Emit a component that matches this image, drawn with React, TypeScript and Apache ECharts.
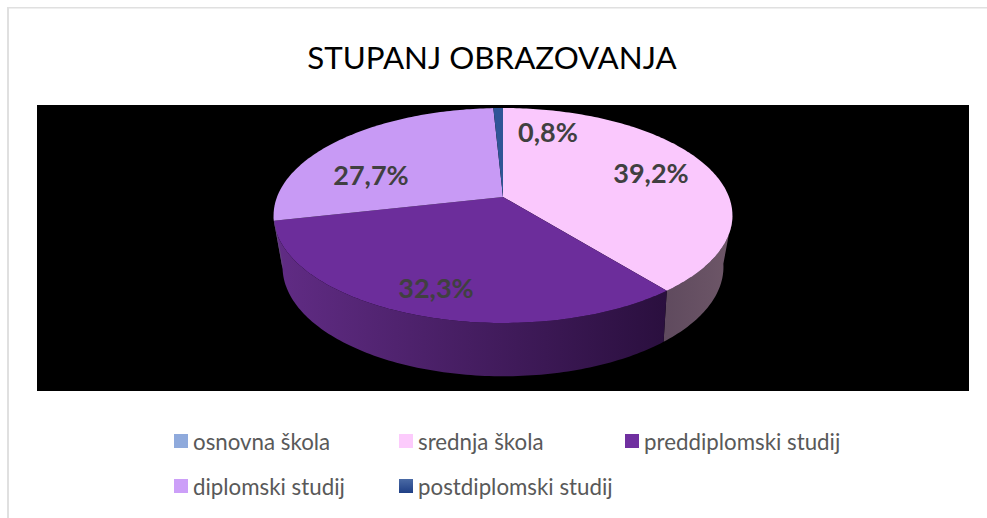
import React, { useEffect, useRef } from "react";
import * as echarts from "echarts";

const title = "STUPANJ OBRAZOVANJA";
const categories = ["osnovna škola", "srednja škola", "preddiplomski studij", "diplomski studij", "postdiplomski studij"];
const values = [0, 39.2, 32.3, 27.7, 0.8];

const topColors = ["#8faadc", "#fac8fd", "#6c2d9b", "#c89af5", "#2f5597"];
const legendColors = ["#8faadc", "#fccbfc", "#7030a0", "#cc9ff8", "#2f5597"];
const sideStops: string[][] = [
  ["#4a5a75", "#4a5a75"],
  ["#5f4a5e", "#6e5768"],
  ["#612c85", "#2a0f3e"],
  ["#5f4478", "#5f4478"],
  ["#1b3058", "#1b3058"],
];
const labelCenters: (number[] | null)[] = [null, [651, 172.5], [436, 287.5], [371, 174.5], [548, 131.5]];
const legendLeft = [174, 399, 625, 174, 399];
const legendTop = [430, 430, 430, 475, 475];

const TOP_DISC = { cx: 503, ay: 197, R: 226, S: 104.3, p: 0.172 };
const BOTTOM_DISC = { cx: 503, ay: 245, R: 216, S: 105, p: 0.2 };
const VISIBLE_FROM = 1.744;
const VISIBLE_TO = 4.539;
const STEP = Math.PI / 180;

const total = values.reduce((a, b) => a + b, 0);

function project(d: typeof TOP_DISC, theta: number) {
  const u = Math.sin(theta);
  const v = Math.cos(theta);
  const k = 1 + d.p * v;
  return [d.cx + (d.R * u) / k, d.ay - (d.S * v) / k];
}

function arc(d: typeof TOP_DISC, from: number, to: number) {
  const n = Math.max(1, Math.ceil((to - from) / STEP));
  const pts: number[][] = [];
  for (let i = 0; i <= n; i++) pts.push(project(d, from + ((to - from) * i) / n));
  return pts;
}

function sliceRange(i: number) {
  const before = values.slice(0, i).reduce((a, b) => a + b, 0);
  return [(before / total) * 2 * Math.PI, ((before + values[i]) / total) * 2 * Math.PI];
}

function renderSlice(i: number) {
  return () => {
    const children: any[] = [];
    if (values[i] <= 0) return { type: "group", children };
    const [a, b] = sliceRange(i);
    const lo = Math.max(a, VISIBLE_FROM);
    const hi = Math.min(b, VISIBLE_TO);
    if (hi > lo) {
      children.push({
        type: "polygon",
        shape: { points: [...arc(TOP_DISC, lo, hi), ...arc(BOTTOM_DISC, lo, hi).reverse()] },
        style: {
          fill: new echarts.graphic.LinearGradient(0, 0, 1, 0, [
            { offset: 0, color: sideStops[i][0] },
            { offset: 1, color: sideStops[i][1] },
          ]),
        },
      });
    }
    children.push({
      type: "polygon",
      shape: { points: [[TOP_DISC.cx, TOP_DISC.ay], ...arc(TOP_DISC, a, b)] },
      style: { fill: topColors[i] },
    });
    const at = labelCenters[i];
    if (at) {
      children.push({
        type: "text",
        style: {
          x: at[0],
          y: at[1],
          text: values[i].toFixed(1).replace(".", ",") + "%",
          align: "center",
          verticalAlign: "middle",
          fill: "#404040",
          font: 'bold 27px Lato',
        },
      });
    }
    return { type: "group", children };
  };
}

export default function App() {
  const ref = useRef<HTMLDivElement>(null);
  useEffect(() => {
    const chart = echarts.init(ref.current!, undefined, { renderer: "svg" });
    chart.setOption({
      animation: false,
      backgroundColor: "#ffffff",
      title: {
        text: title,
        left: 487,
        top: 36,
        textAlign: "center",
        textStyle: { fontFamily: "Lato", fontWeight: "normal", fontSize: 31.3, color: "#000000" },
      },
      legend: categories.map((name, i) => ({
        data: [
          i === 4
            ? {
                name,
                itemStyle: {
                  color: new echarts.graphic.LinearGradient(0, 0, 0, 1, [
                    { offset: 0, color: "#4a6aa5" },
                    { offset: 1, color: "#1f3f85" },
                  ]),
                },
              }
            : { name },
        ],
        left: legendLeft[i],
        top: legendTop[i],
        padding: 0,
        icon: "rect",
        itemWidth: 14,
        itemHeight: 14,
        selectedMode: false,
        textStyle: { fontFamily: "Lato", fontSize: 22.3, color: "#595959" },
      })),
      graphic: [
        { type: "rect", z: -10, shape: { x: 7, y: 7, width: 2, height: 511 }, style: { fill: "#e0e0e0" } },
        { type: "rect", z: -10, shape: { x: 7, y: 7, width: 980, height: 1.5 }, style: { fill: "#e0e0e0" } },
        { type: "rect", z: -10, shape: { x: 37, y: 105, width: 932, height: 286 }, style: { fill: "#000000" } },
      ],
      series: categories.map((name, i) => ({
        type: "custom",
        name,
        coordinateSystem: "none",
        silent: true,
        itemStyle: { color: legendColors[i] },
        data: [values[i]],
        renderItem: renderSlice(i),
      })),
    });
    return () => chart.dispose();
  }, []);
  return <div ref={ref} style={{ position: "absolute", left: 0, top: 0, width: 987, height: 518 }} />;
}
